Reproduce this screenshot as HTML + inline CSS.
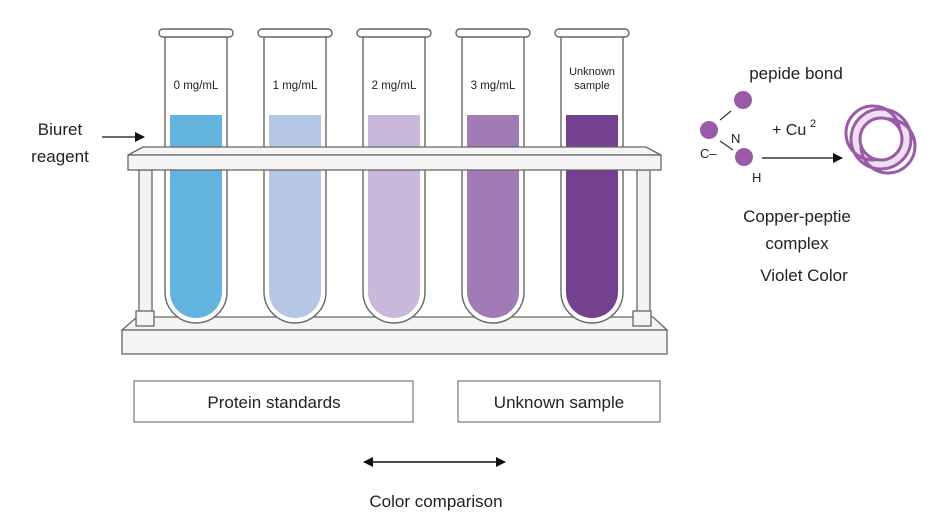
<!DOCTYPE html>
<html><head><meta charset="utf-8"><style>
html,body{margin:0;padding:0;background:#fff;}
svg{display:block;font-family:"Liberation Sans","DejaVu Sans",sans-serif;}
</style></head><body>
<svg width="936" height="527" viewBox="0 0 936 527" xmlns="http://www.w3.org/2000/svg">
<defs>
<marker id="ah" markerWidth="10" markerHeight="10" refX="9" refY="5" orient="auto" markerUnits="userSpaceOnUse"><path d="M0,0 L10,5 L0,10 z" fill="#111"/></marker>
<marker id="ahs" markerWidth="10" markerHeight="10" refX="1" refY="5" orient="auto" markerUnits="userSpaceOnUse"><path d="M10,0 L0,5 L10,10 z" fill="#111"/></marker>
</defs>
<rect width="936" height="527" fill="#fff"/>
<path d="M122,330 L137,317 L653,317 L667,330 Z" fill="#f4f4f4" stroke="#666" stroke-width="1.3"/>
<rect x="122" y="330" width="545" height="24" fill="#f4f4f4" stroke="#666" stroke-width="1.3"/>
<rect x="139" y="170" width="13" height="145" fill="#f2f2f2" stroke="#666" stroke-width="1.3"/>
<rect x="637" y="170" width="13" height="145" fill="#f2f2f2" stroke="#666" stroke-width="1.3"/>
<rect x="136" y="311" width="18" height="15" fill="#f4f4f4" stroke="#666" stroke-width="1.3"/>
<rect x="633" y="311" width="18" height="15" fill="#f4f4f4" stroke="#666" stroke-width="1.3"/>
<g stroke="#666" stroke-width="1.4">
<g transform="translate(196,0)">
<path d="M-31,37 L-31,292 A31,31 0 0 0 31,292 L31,37" fill="#fff"/>
<rect x="-37" y="29" width="74" height="8" rx="4" fill="#fff"/>
<path d="M-26,115 L26,115 L26,292 A26,26 0 0 1 -26,292 Z" fill="#62b4df" stroke="none"/>
</g>
<g transform="translate(295,0)">
<path d="M-31,37 L-31,292 A31,31 0 0 0 31,292 L31,37" fill="#fff"/>
<rect x="-37" y="29" width="74" height="8" rx="4" fill="#fff"/>
<path d="M-26,115 L26,115 L26,292 A26,26 0 0 1 -26,292 Z" fill="#b5c7e3" stroke="none"/>
</g>
<g transform="translate(394,0)">
<path d="M-31,37 L-31,292 A31,31 0 0 0 31,292 L31,37" fill="#fff"/>
<rect x="-37" y="29" width="74" height="8" rx="4" fill="#fff"/>
<path d="M-26,115 L26,115 L26,292 A26,26 0 0 1 -26,292 Z" fill="#cab8db" stroke="none"/>
</g>
<g transform="translate(493,0)">
<path d="M-31,37 L-31,292 A31,31 0 0 0 31,292 L31,37" fill="#fff"/>
<rect x="-37" y="29" width="74" height="8" rx="4" fill="#fff"/>
<path d="M-26,115 L26,115 L26,292 A26,26 0 0 1 -26,292 Z" fill="#a07bb6" stroke="none"/>
</g>
<g transform="translate(592,0)">
<path d="M-31,37 L-31,292 A31,31 0 0 0 31,292 L31,37" fill="#fff"/>
<rect x="-37" y="29" width="74" height="8" rx="4" fill="#fff"/>
<path d="M-26,115 L26,115 L26,292 A26,26 0 0 1 -26,292 Z" fill="#74418f" stroke="none"/>
</g>
</g>
<path d="M128,155 L143,147 L646,147 L661,155 Z" fill="#f4f4f4" stroke="#666" stroke-width="1.3"/>
<rect x="128" y="155" width="533" height="15" fill="#f4f4f4" stroke="#666" stroke-width="1.3"/>
<g font-size="11.5" fill="#222" text-anchor="middle">
<text x="196" y="89">0 mg/mL</text>
<text x="295" y="89">1 mg/mL</text>
<text x="394" y="89">2 mg/mL</text>
<text x="493" y="89">3 mg/mL</text>
<text x="592" y="75" font-size="11">Unknown</text>
<text x="592" y="89" font-size="11">sample</text>
</g>
<text x="60" y="135" font-size="17" fill="#222" text-anchor="middle">Biuret</text>
<text x="60" y="162" font-size="17" fill="#222" text-anchor="middle">reagent</text>
<line x1="102" y1="137" x2="144" y2="137" stroke="#111" stroke-width="1.3" marker-end="url(#ah)"/>
<rect x="134" y="381" width="279" height="41" fill="#fff" stroke="#777" stroke-width="1.2"/>
<text x="274" y="408" font-size="17" fill="#222" text-anchor="middle">Protein standards</text>
<rect x="458" y="381" width="202" height="41" fill="#fff" stroke="#777" stroke-width="1.2"/>
<text x="559" y="408" font-size="17" fill="#222" text-anchor="middle">Unknown sample</text>
<line x1="364" y1="462" x2="505" y2="462" stroke="#111" stroke-width="1.5" marker-start="url(#ahs)" marker-end="url(#ah)"/>
<text x="436" y="507" font-size="17" fill="#222" text-anchor="middle">Color comparison</text>
<text x="796" y="79" font-size="17" fill="#222" text-anchor="middle">pepide bond</text>
<circle cx="743" cy="100" r="9" fill="#9a5aa8"/>
<circle cx="709" cy="130" r="9" fill="#9a5aa8"/>
<circle cx="744" cy="157" r="9" fill="#9a5aa8"/>
<line x1="720" y1="120" x2="731" y2="111" stroke="#333" stroke-width="1.2"/>
<line x1="720" y1="141" x2="733" y2="150" stroke="#333" stroke-width="1.2"/>
<text x="731" y="143" font-size="13" fill="#222">N</text>
<text x="700" y="158" font-size="13" fill="#222">C–</text>
<text x="752" y="182" font-size="13" fill="#222">H</text>
<text x="772" y="135" font-size="16" fill="#222">+ Cu</text>
<text x="810" y="127" font-size="11" fill="#222">2</text>
<line x1="762" y1="158" x2="842" y2="158" stroke="#111" stroke-width="1.3" marker-end="url(#ah)"/>
<g fill="none" stroke="#9a5aa8" stroke-width="3">
<circle cx="881" cy="139" r="30" fill="#c9a5d2" fill-opacity="0.35"/>
<circle cx="873" cy="133" r="27"/>
<circle cx="888" cy="146" r="27"/>
<circle cx="881" cy="139" r="21" fill="#fff"/>
</g>
<text x="797" y="222" font-size="17" fill="#222" text-anchor="middle">Copper-peptie</text>
<text x="797" y="249" font-size="17" fill="#222" text-anchor="middle">complex</text>
<text x="804" y="281" font-size="17" fill="#222" text-anchor="middle">Violet Color</text>
</svg>
</body></html>
